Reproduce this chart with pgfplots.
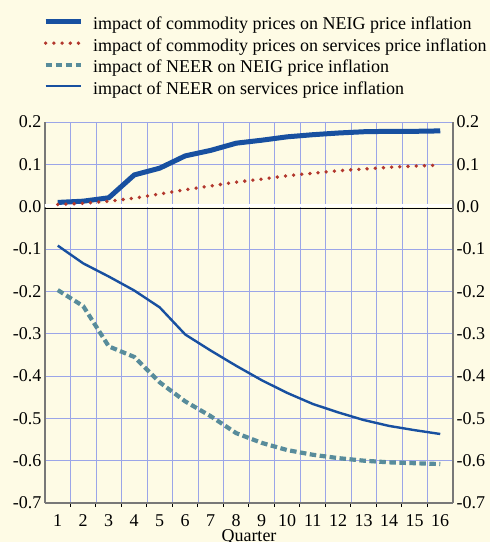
\documentclass[border=0pt]{standalone}
\usepackage{pgfplots}
\pgfplotsset{compat=1.18}
\usepackage{fontspec}
\setmainfont{Liberation Serif}
\definecolor{bg}{RGB}{254,251,229}
\definecolor{gridc}{RGB}{155,165,232}
\definecolor{axc}{RGB}{120,120,120}
\definecolor{dblue}{RGB}{24,80,160}
\definecolor{dred}{RGB}{178,55,45}
\definecolor{teal2}{RGB}{88,140,155}
\begin{document}
\begin{tikzpicture}
\fill[bg] (0pt,0pt) rectangle (490pt,542pt);
\begin{axis}[
  at={(45pt,39pt)}, anchor=south west,
  scale only axis, width=408pt, height=381pt,
  xmin=0.5, xmax=16.5, ymin=-0.7, ymax=0.2,
  axis x line*=bottom, axis y line*=left,
  axis line style={axc, line width=1.2pt, -},
  xtick={1,...,16},
  minor xtick={1.5,2.5,...,15.5},
  ytick={-0.7,-0.6,-0.5,-0.4,-0.3,-0.2,-0.1,0,0.1,0.2},
  yticklabels={-0.7,-0.6,-0.5,-0.4,-0.3,-0.2,-0.1,0.0,0.1,0.2},
  xticklabels={1,2,3,4,5,6,7,8,9,10,11,12,13,14,15,16},
  major tick length=0pt, minor tick length=4pt, tick align=outside,
  minor tick style={black, line width=1pt},
  ymajorgrids, xminorgrids,
  grid style={gridc, line width=0.9pt},
  minor grid style={gridc, line width=0.9pt},
  tick label style={font=\fontsize{18}{21}\selectfont},
  xticklabel style={anchor=base, yshift=-23.5pt},
  xlabel={Quarter},
  xlabel style={font=\fontsize{18}{21}\selectfont, at={(axis description cs:0.5,0)}, anchor=base, yshift=-38pt},
  legend style={at={(axis description cs:-0.005,1.279)}, anchor=north west,
    draw=none, fill=none, inner sep=0pt, row sep=0pt, column sep=10pt,
    font=\fontsize{18}{21}\selectfont,
    nodes={inner sep=0pt, text height=14pt, text depth=7.5pt}},
  legend cell align=left,
  legend image code/.code={\draw[#1] (0pt,5pt) -- (35pt,5pt);},
]
\draw[white, line width=3pt] ([yshift=1pt]axis cs:0.45,0) -- ([yshift=1pt]axis cs:16.5,0);
\draw[black, line width=1.2pt] ([yshift=-1.5pt]axis cs:0.45,0) -- ([yshift=-1.5pt]axis cs:16.5,0);
\addplot[dblue, line width=5pt, line join=round] coordinates {
(1,0.010)(2,0.013)(3,0.021)(4,0.075)(5,0.091)(6,0.120)(7,0.133)(8,0.150)(9,0.157)(10,0.165)(11,0.170)(12,0.174)(13,0.177)(14,0.178)(15,0.178)(16,0.179)};
\addlegendentry{impact of commodity prices on NEIG price inflation}
\addplot[dred, line width=3.8pt, line cap=round, dash pattern=on 0pt off 8.2pt] coordinates {
(1,0.005)(2,0.008)(3,0.013)(4,0.020)(5,0.030)(6,0.040)(7,0.049)(8,0.058)(9,0.065)(10,0.073)(11,0.079)(12,0.085)(13,0.089)(14,0.093)(15,0.096)(16,0.098)};
\addlegendentry{impact of commodity prices on services price inflation}
\addplot[teal2, line width=4.2pt, dash pattern=on 6.5pt off 3.5pt] coordinates {
(1,-0.197)(2,-0.235)(3,-0.330)(4,-0.355)(5,-0.415)(6,-0.460)(7,-0.495)(8,-0.535)(9,-0.558)(10,-0.575)(11,-0.586)(12,-0.594)(13,-0.600)(14,-0.604)(15,-0.606)(16,-0.608)};
\addlegendentry{impact of NEER on NEIG price inflation}
\addplot[dblue, line width=2.4pt, line join=round] coordinates {
(1,-0.092)(2,-0.134)(3,-0.165)(4,-0.198)(5,-0.238)(6,-0.302)(7,-0.340)(8,-0.376)(9,-0.410)(10,-0.440)(11,-0.466)(12,-0.486)(13,-0.504)(14,-0.518)(15,-0.528)(16,-0.537)};
\addlegendentry{impact of NEER on services price inflation}
\end{axis}
\begin{axis}[
  at={(45pt,39pt)}, anchor=south west,
  scale only axis, width=408pt, height=381pt,
  xmin=0.5, xmax=16.5, ymin=-0.7, ymax=0.2,
  axis x line=none, axis y line*=right,
  axis line style={axc, line width=1.2pt, -},
  ytick={-0.7,-0.6,-0.5,-0.4,-0.3,-0.2,-0.1,0,0.1,0.2},
  yticklabels={-0.7,-0.6,-0.5,-0.4,-0.3,-0.2,-0.1,0.0,0.1,0.2},
  major tick length=0pt,
  tick label style={font=\fontsize{18}{21}\selectfont},
]
\end{axis}
\pgfresetboundingbox
\path[use as bounding box] (0pt,0pt) rectangle (490pt,542pt);
\end{tikzpicture}
\end{document}
